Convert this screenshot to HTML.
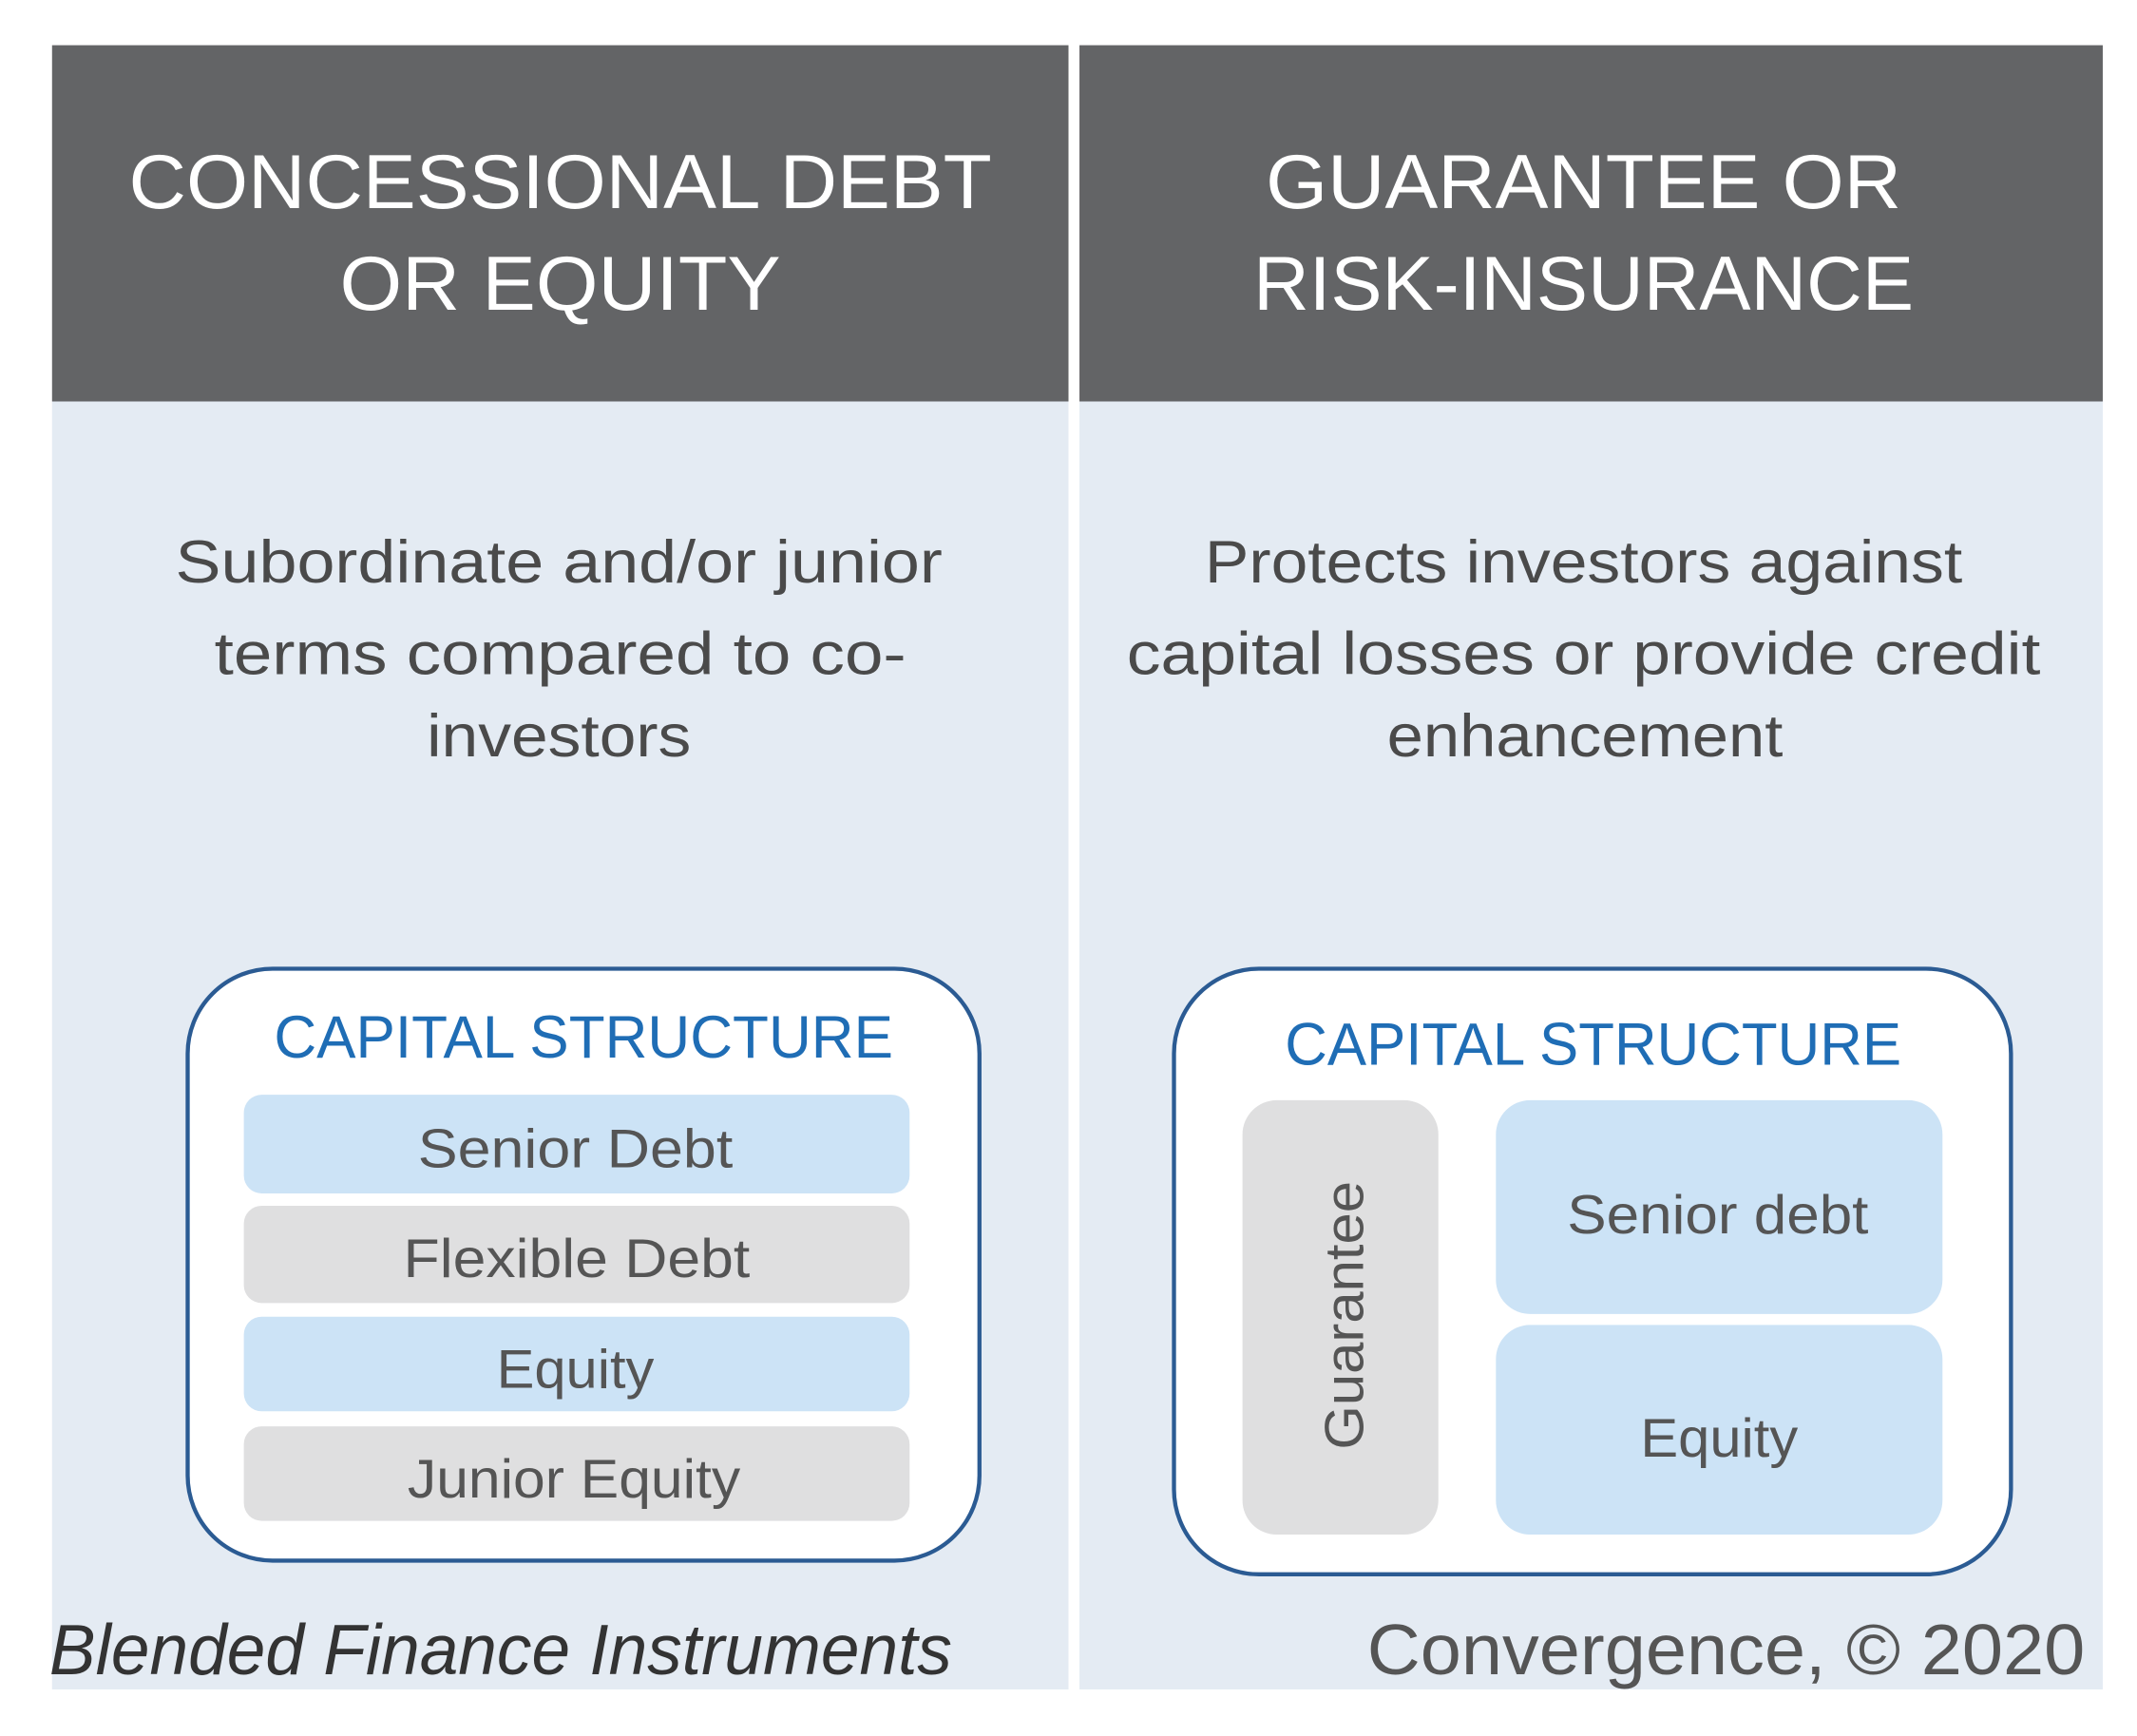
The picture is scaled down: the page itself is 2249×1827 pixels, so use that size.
<!DOCTYPE html>
<html><head><meta charset="utf-8"><style>
html,body{margin:0;padding:0;background:#fff;}
svg{display:block;}
</style></head><body>
<svg width="2249" height="1827" viewBox="0 0 1560 1267" preserveAspectRatio="none" xmlns="http://www.w3.org/2000/svg" font-family="'Liberation Sans', sans-serif">
<rect x="0" y="0" width="1560" height="1267" fill="#ffffff"/>
<rect x="38" y="293" width="742" height="940" fill="#e4ebf3"/>
<rect x="788" y="293" width="747" height="940" fill="#e4ebf3"/>
<rect x="38" y="33" width="742" height="260" fill="#636466"/>
<rect x="788" y="33" width="747" height="260" fill="#636466"/>
<g fill="#ffffff" font-size="56" text-anchor="middle">
<text x="409" y="152" textLength="630" lengthAdjust="spacingAndGlyphs">CONCESSIONAL DEBT</text>
<text x="409" y="226" textLength="322" lengthAdjust="spacingAndGlyphs">OR EQUITY</text>
<text x="1156" y="152" textLength="464" lengthAdjust="spacingAndGlyphs">GUARANTEE OR</text>
<text x="1156" y="226" textLength="482" lengthAdjust="spacingAndGlyphs">RISK-INSURANCE</text>
</g>
<g fill="#4a4a4a" font-size="44" text-anchor="middle">
<text x="408" y="425" textLength="560" lengthAdjust="spacingAndGlyphs">Subordinate and/or junior</text>
<text x="409" y="492" textLength="505" lengthAdjust="spacingAndGlyphs">terms compared to co-</text>
<text x="408" y="552" textLength="193" lengthAdjust="spacingAndGlyphs">investors</text>
<text x="1156" y="425" textLength="553" lengthAdjust="spacingAndGlyphs">Protects investors against</text>
<text x="1156" y="492" textLength="667" lengthAdjust="spacingAndGlyphs">capital losses or provide credit</text>
<text x="1157" y="552" textLength="289" lengthAdjust="spacingAndGlyphs">enhancement</text>
</g>
<rect x="137" y="707" width="578" height="432" rx="62" fill="#ffffff" stroke="#2b5b93" stroke-width="3"/>
<rect x="857" y="707" width="611" height="442" rx="62" fill="#ffffff" stroke="#2b5b93" stroke-width="3"/>
<g fill="#1f6db5" font-size="44" text-anchor="middle">
<text x="426" y="772" textLength="452" lengthAdjust="spacingAndGlyphs">CAPITAL STRUCTURE</text>
<text x="1163" y="777" textLength="450" lengthAdjust="spacingAndGlyphs">CAPITAL STRUCTURE</text>
</g>
<rect x="178" y="799" width="486" height="72" rx="13" fill="#cce3f6"/>
<rect x="178" y="880" width="486" height="71" rx="13" fill="#dfdfe0"/>
<rect x="178" y="961" width="486" height="69" rx="13" fill="#cce3f6"/>
<rect x="178" y="1041" width="486" height="69" rx="13" fill="#dfdfe0"/>
<rect x="907" y="803" width="143" height="317" rx="25" fill="#dfdfe0"/>
<rect x="1092" y="803" width="326" height="156" rx="25" fill="#cce3f6"/>
<rect x="1092" y="967" width="326" height="153" rx="25" fill="#cce3f6"/>
<g fill="#555555" font-size="40" text-anchor="middle">
<text x="420" y="852" textLength="230" lengthAdjust="spacingAndGlyphs">Senior Debt</text>
<text x="421" y="932" textLength="253" lengthAdjust="spacingAndGlyphs">Flexible Debt</text>
<text x="420" y="1013" textLength="115" lengthAdjust="spacingAndGlyphs">Equity</text>
<text x="419" y="1093" textLength="243" lengthAdjust="spacingAndGlyphs">Junior Equity</text>
<text x="1254" y="900" textLength="220" lengthAdjust="spacingAndGlyphs">Senior debt</text>
<text x="1255" y="1063" textLength="115" lengthAdjust="spacingAndGlyphs">Equity</text>
<text x="0" y="0" transform="translate(995,960) rotate(-90)" textLength="196" lengthAdjust="spacingAndGlyphs">Guarantee</text>
</g>
<text x="36" y="1222" font-size="52" font-style="italic" fill="#333333" textLength="659" lengthAdjust="spacingAndGlyphs">Blended Finance Instruments</text>
<text x="1522" y="1222" font-size="52" fill="#555555" text-anchor="end" textLength="524" lengthAdjust="spacingAndGlyphs">Convergence, © 2020</text>
</svg>
</body></html>
